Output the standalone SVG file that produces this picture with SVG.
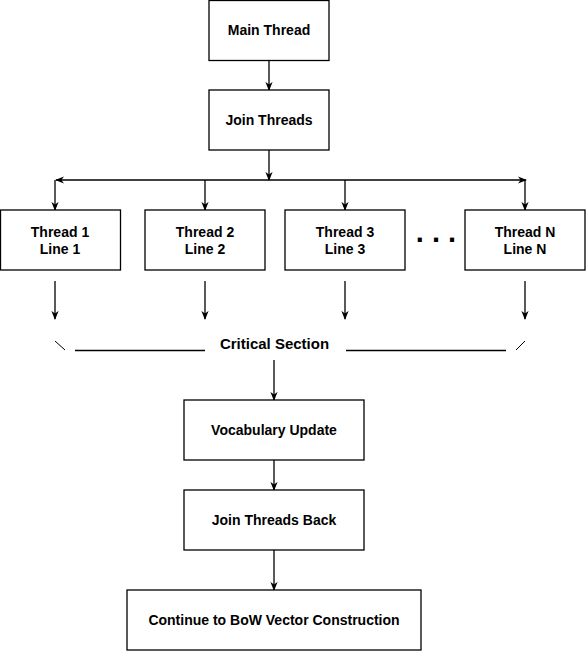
<svg xmlns="http://www.w3.org/2000/svg" width="586" height="651" viewBox="0 0 586 651">
<style>
.box{fill:#fff;stroke:#000;stroke-width:1.3}
.t{font-family:"Liberation Sans",Arial,sans-serif;font-weight:bold;font-size:14px;fill:#000;text-anchor:middle}
.c{stroke:#000;stroke-width:1.3;fill:none}
.a{marker-end:url(#arr)}
</style>
<defs>
<marker id="arr" viewBox="0 0 10 10" refX="9" refY="5" markerWidth="9" markerHeight="9" markerUnits="userSpaceOnUse" orient="auto">
<path d="M0,1 L10,5 L0,9 L3,5 z" fill="#000"/>
</marker>
</defs>
<g id="connectors">
<line class="c a" x1="269" y1="60" x2="269" y2="90"/>
<line class="c a" x1="269" y1="150" x2="269" y2="180"/>
<line class="c a" x1="269" y1="180" x2="56" y2="180"/>
<line class="c a" x1="269" y1="180" x2="526" y2="180"/>
<line class="c a" x1="55" y1="180" x2="55" y2="210"/>
<line class="c a" x1="205" y1="180" x2="205" y2="210"/>
<line class="c a" x1="345" y1="180" x2="345" y2="210"/>
<line class="c a" x1="525" y1="180" x2="525" y2="210"/>
<line class="c a" x1="55" y1="281" x2="55" y2="319"/>
<line class="c a" x1="205" y1="281" x2="205" y2="319"/>
<line class="c a" x1="345" y1="281" x2="345" y2="319"/>
<line class="c a" x1="525" y1="281" x2="525" y2="319"/>
<line class="c a" x1="274" y1="360" x2="274" y2="400"/>
<line class="c a" x1="274" y1="460" x2="274" y2="490"/>
<line class="c a" x1="274" y1="550" x2="274" y2="590"/>
</g>
<g id="critical-section">
<line class="c" x1="75" y1="350.5" x2="205" y2="350.5"/>
<line class="c" x1="346" y1="350.5" x2="506" y2="350.5"/>
<line stroke="#000" stroke-width="1" x1="55" y1="341" x2="65" y2="350"/>
<line stroke="#000" stroke-width="1" x1="516" y1="350" x2="525" y2="341"/>
<text class="t" x="274.5" y="348.5" style="font-size:15px">Critical Section</text>
</g>
<g id="main-thread">
<rect class="box" x="209" y="0.5" width="120" height="60"/>
<text class="t" x="269" y="35">Main Thread</text>
</g>
<g id="join-threads">
<rect class="box" x="209" y="90" width="120" height="60"/>
<text class="t" x="269" y="125">Join Threads</text>
</g>
<g id="thread-1">
<rect class="box" x="0.5" y="210" width="120" height="60"/>
<text class="t" x="60" y="237">Thread 1</text>
<text class="t" x="60" y="254">Line 1</text>
</g>
<g id="thread-2">
<rect class="box" x="145" y="210" width="120" height="60"/>
<text class="t" x="205" y="237">Thread 2</text>
<text class="t" x="205" y="254">Line 2</text>
</g>
<g id="thread-3">
<rect class="box" x="285" y="210" width="120" height="60"/>
<text class="t" x="345" y="237">Thread 3</text>
<text class="t" x="345" y="254">Line 3</text>
</g>
<g id="dots">
<text class="t" x="436" y="242" style="font-size:29px">. . .</text>
</g>
<g id="thread-n">
<rect class="box" x="465" y="210" width="120" height="60"/>
<text class="t" x="525" y="237">Thread N</text>
<text class="t" x="525" y="254">Line N</text>
</g>
<g id="vocabulary-update">
<rect class="box" x="184" y="400" width="180" height="60"/>
<text class="t" x="274" y="435">Vocabulary Update</text>
</g>
<g id="join-threads-back">
<rect class="box" x="184" y="490" width="180" height="60"/>
<text class="t" x="274" y="525">Join Threads Back</text>
</g>
<g id="continue">
<rect class="box" x="127" y="590" width="294" height="60"/>
<text class="t" x="274" y="625">Continue to BoW Vector Construction</text>
</g>
</svg>
